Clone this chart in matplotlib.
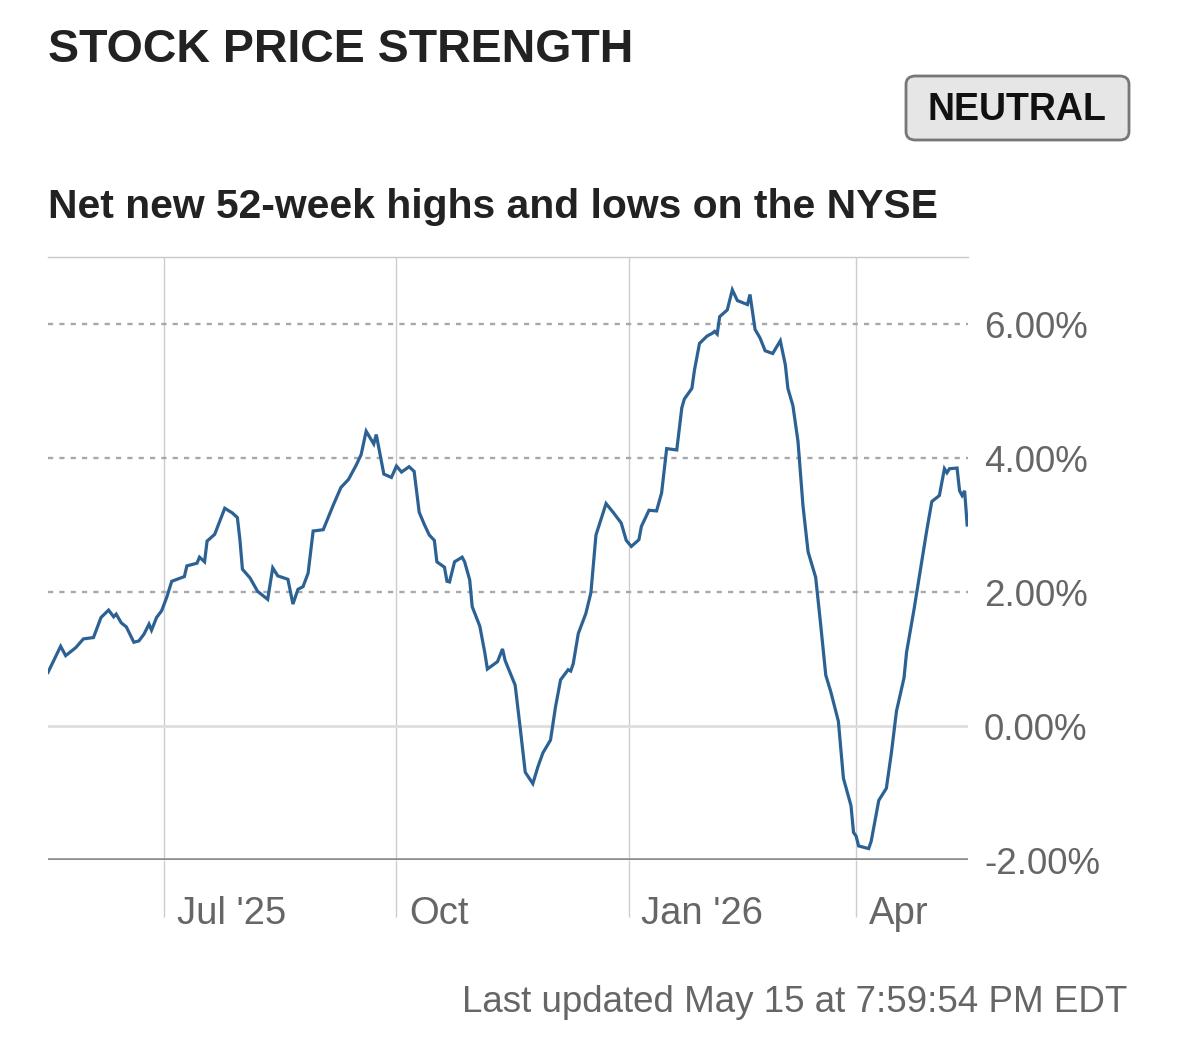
import matplotlib
matplotlib.use("Agg")
import matplotlib.pyplot as plt
import matplotlib.dates as mdates
from matplotlib.patches import FancyBboxPatch
import pandas as pd

# net new 52-week highs/lows, %
dates = [
    "2025-05-16", "2025-05-21", "2025-05-23", "2025-05-27", "2025-05-30", "2025-06-03",
    "2025-06-06", "2025-06-09", "2025-06-11", "2025-06-12", "2025-06-14", "2025-06-16",
    "2025-06-19", "2025-06-21", "2025-06-23", "2025-06-25", "2025-06-26", "2025-06-28",
    "2025-06-30", "2025-07-02", "2025-07-04", "2025-07-09", "2025-07-10", "2025-07-14",
    "2025-07-15", "2025-07-17", "2025-07-18", "2025-07-21", "2025-07-25", "2025-07-28",
    "2025-07-30", "2025-07-31", "2025-08-01", "2025-08-04", "2025-08-07", "2025-08-11",
    "2025-08-13", "2025-08-15", "2025-08-19", "2025-08-21", "2025-08-23", "2025-08-25",
    "2025-08-27", "2025-08-29", "2025-09-02", "2025-09-06", "2025-09-09", "2025-09-12",
    "2025-09-15", "2025-09-17", "2025-09-19", "2025-09-22", "2025-09-23", "2025-09-25",
    "2025-09-26", "2025-09-29", "2025-10-01", "2025-10-03", "2025-10-06", "2025-10-08",
    "2025-10-10", "2025-10-12", "2025-10-14", "2025-10-16", "2025-10-17", "2025-10-20",
    "2025-10-21", "2025-10-22", "2025-10-24", "2025-10-27", "2025-10-28", "2025-10-30",
    "2025-10-31", "2025-11-03", "2025-11-05", "2025-11-06", "2025-11-10", "2025-11-12",
    "2025-11-13", "2025-11-17", "2025-11-19", "2025-11-21", "2025-11-24", "2025-11-26",
    "2025-11-28", "2025-12-01", "2025-12-03", "2025-12-05", "2025-12-08", "2025-12-09",
    "2025-12-10", "2025-12-12", "2025-12-15", "2025-12-17", "2025-12-19", "2025-12-23",
    "2025-12-26", "2025-12-29", "2025-12-31", "2026-01-02", "2026-01-05", "2026-01-06",
    "2026-01-09", "2026-01-12", "2026-01-14", "2026-01-16", "2026-01-20", "2026-01-22",
    "2026-01-23", "2026-01-26", "2026-01-27", "2026-01-29", "2026-02-01", "2026-02-03",
    "2026-02-04", "2026-02-05", "2026-02-06", "2026-02-09", "2026-02-11", "2026-02-13",
    "2026-02-17", "2026-02-18", "2026-02-20", "2026-02-22", "2026-02-24", "2026-02-27",
    "2026-03-02", "2026-03-04", "2026-03-05", "2026-03-07", "2026-03-09", "2026-03-11",
    "2026-03-13", "2026-03-16", "2026-03-18", "2026-03-20", "2026-03-22", "2026-03-25",
    "2026-03-27", "2026-03-30", "2026-03-31", "2026-04-01", "2026-04-02", "2026-04-06",
    "2026-04-07", "2026-04-09", "2026-04-10", "2026-04-13", "2026-04-14", "2026-04-15",
    "2026-04-17", "2026-04-20", "2026-04-21", "2026-04-24", "2026-04-26", "2026-04-29",
    "2026-05-01", "2026-05-04", "2026-05-06", "2026-05-07", "2026-05-08", "2026-05-11",
    "2026-05-12", "2026-05-13", "2026-05-14", "2026-05-15",
]
values = [
    0.80, 1.19, 1.05, 1.17, 1.30, 1.32,
    1.62, 1.73, 1.63, 1.67, 1.54, 1.48,
    1.25, 1.27, 1.37, 1.52, 1.43, 1.62,
    1.72, 1.92, 2.16, 2.23, 2.39, 2.43,
    2.52, 2.45, 2.76, 2.86, 3.25, 3.18,
    3.11, 2.78, 2.34, 2.21, 2.01, 1.89,
    2.36, 2.24, 2.19, 1.82, 2.04, 2.08,
    2.28, 2.91, 2.93, 3.30, 3.56, 3.68,
    3.89, 4.05, 4.40, 4.21, 4.35, 3.96,
    3.76, 3.71, 3.88, 3.79, 3.87, 3.80,
    3.19, 3.01, 2.85, 2.77, 2.45, 2.37,
    2.16, 2.15, 2.45, 2.52, 2.45, 2.18,
    1.78, 1.49, 1.09, 0.85, 0.96, 1.15,
    0.98, 0.61, -0.03, -0.69, -0.86, -0.61,
    -0.40, -0.21, 0.29, 0.69, 0.84, 0.82,
    0.93, 1.38, 1.68, 1.99, 2.85, 3.32,
    3.18, 3.03, 2.77, 2.68, 2.78, 2.98,
    3.22, 3.21, 3.48, 4.14, 4.12, 4.75,
    4.88, 5.04, 5.31, 5.71, 5.82, 5.86,
    5.89, 5.85, 6.11, 6.21, 6.51, 6.35,
    6.29, 6.44, 5.92, 5.79, 5.60, 5.56,
    5.75, 5.39, 5.04, 4.78, 4.25, 3.28,
    2.60, 2.22, 1.51, 0.76, 0.51, 0.07,
    -0.78, -1.19, -1.59, -1.64, -1.79, -1.83,
    -1.72, -1.31, -1.11, -0.93, -0.66, -0.40,
    0.22, 0.72, 1.10, 1.75, 2.22, 2.92,
    3.35, 3.44, 3.84, 3.78, 3.84, 3.85,
    3.51, 3.44, 3.51, 3.00,
]

y_ticks = [-2, 0, 2, 4, 6]
x_tick_dates = ["2025-07-01", "2025-10-01", "2026-01-01", "2026-04-01"]
x_tick_labels = ["Jul '25", "Oct", "Jan '26", "Apr"]

plt.rcParams['font.family'] = ['Liberation Sans', 'DejaVu Sans']

dts = pd.to_datetime(dates)
fig = plt.figure(figsize=(11.79, 10.49), dpi=100)
ax = fig.add_axes([48/1179, 189/1049, 920/1179, 603/1049])

ax.plot(dts, values, color='#2c6194', lw=2.3, solid_joinstyle='miter', zorder=5)

ax.set_xlim(pd.Timestamp("2025-05-16"), pd.Timestamp("2026-05-15 08:00"))
ax.set_ylim(-2, 7)

# horizontal grid
for v in y_ticks:
    if v == -2:
        ax.axhline(v, color='#8c8c8c', lw=2.6, zorder=3)
    elif v == 0:
        ax.axhline(v, color='#dedede', lw=2.0, zorder=2)
    else:
        ax.axhline(v, color='#a8a8a8', lw=1.7, ls=(0, (2.2, 2.6)), zorder=2)

for s in ['left', 'right', 'bottom']:
    ax.spines[s].set_visible(False)
ax.spines['top'].set_color('#c8c8c8')
ax.spines['top'].set_linewidth(1.0)

ax.yaxis.tick_right()
ax.set_yticks(y_ticks)
ax.set_yticklabels(["%.2f%%" % v for v in y_ticks])
ax.tick_params(axis='y', length=0, pad=11.5, labelsize=26.5, labelcolor='#666666')

xt = pd.to_datetime(x_tick_dates)
ax.set_xticks(xt)
ax.set_xticklabels([])
ax.tick_params(axis='x', length=41, width=1.0, color='#cccccc', direction='out')
for d in xt:
    ax.axvline(d, color='#cccccc', lw=1.0, zorder=1)
for d, lab in zip(xt, x_tick_labels):
    ax.annotate(lab, xy=(mdates.date2num(d), 0), xycoords=('data', 'axes fraction'),
                xytext=(9, -39), textcoords='offset points', ha='left', va='center',
                fontsize=27.5, color='#666666', annotation_clip=False)

fig.text(48/1179, 1 - 50/1049, "STOCK PRICE STRENGTH", fontsize=33.5, fontweight='bold',
         color='#222222', ha='left', va='center')
fig.text(48/1179, 1 - 207/1049, "Net new 52-week highs and lows on the NYSE", fontsize=29.4,
         fontweight='bold', color='#222222', ha='left', va='center')

box = FancyBboxPatch((906/1179, 1 - 140/1049), 223/1179, 64/1049,
                     boxstyle="round,pad=0,rounding_size=0.008", transform=fig.transFigure,
                     facecolor='#e6e6e6', edgecolor='#777777', linewidth=2.0)
fig.patches.append(box)
fig.text(1017/1179, 1 - 110/1049, "NEUTRAL", fontsize=27, fontweight='bold',
         color='#111111', ha='center', va='center')

fig.text(1127/1179, 1 - 1002/1049, "Last updated May 15 at 7:59:54 PM EDT", fontsize=26.5,
         color='#666666', ha='right', va='center')

fig.savefig("out.png", dpi=100, facecolor='white')
